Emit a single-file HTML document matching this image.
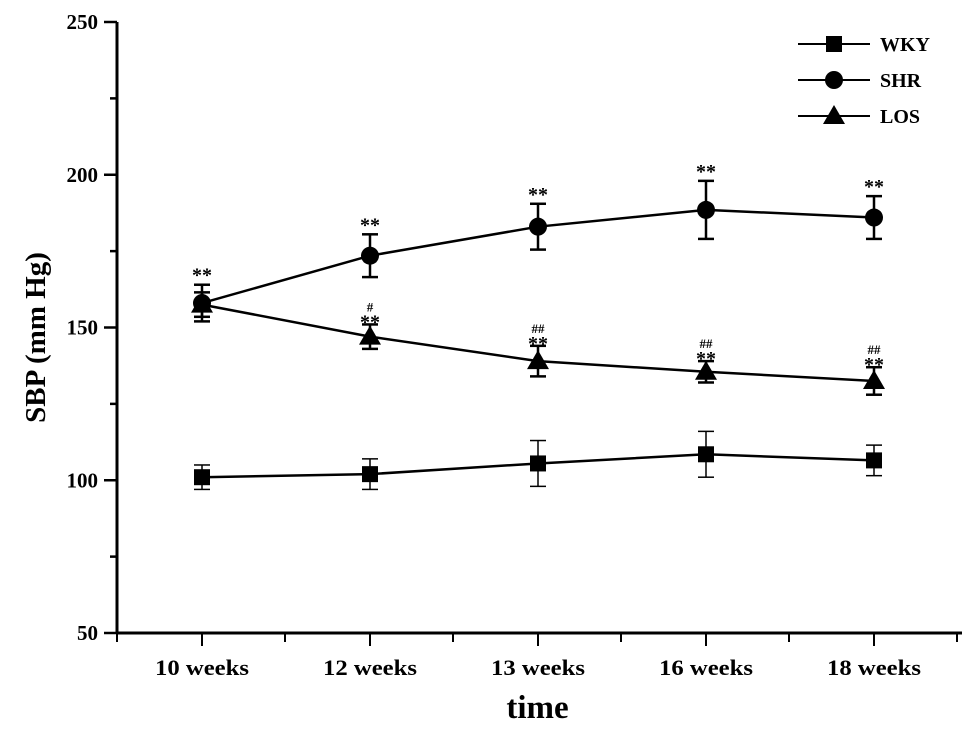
<!DOCTYPE html>
<html><head><meta charset="utf-8"><style>
body{margin:0;background:#fff}
svg text{font-family:"Liberation Serif",serif;font-weight:bold;fill:#000}
</style></head><body>
<svg id="chart" width="969" height="725"></svg>
<script>
const categories=["10 weeks","12 weeks","13 weeks","16 weeks","18 weeks"];
const wky=[101,102,105.5,108.5,106.5];
const wkyErr=[4,5,7.5,7.5,5];
const shr=[158,173.5,183,188.5,186];
const shrErr=[6,7,7.5,9.5,7];
const los=[157.5,147,139,135.5,132.5];
const losErr=[4,4,5,3.5,4.5];
const losHash=["","#","##","##","##"];
const yTicks=[50,100,150,200,250];
const svg=document.getElementById('chart');
const NS="http://www.w3.org/2000/svg";
const X0=117,X1=962,Y0=633,Y1=22;
function yS(v){return Y0-(v-50)/200*(Y0-Y1);}
function xS(i){return X0+85+168*i;}
function el(t,a,p){const e=document.createElementNS(NS,t);for(const k in a)e.setAttribute(k,a[k]);(p||svg).appendChild(e);return e;}
let a=el('line',{x1:X0,y1:Y1,x2:X0,y2:Y0+1,stroke:'#000','stroke-width':3});

a=el('line',{x1:X0-1,y1:Y0,x2:X1,y2:Y0,stroke:'#000','stroke-width':3});

for(let v=50;v<=250;v+=25){const maj=(v%50===0);el('line',{x1:X0-(maj?13:7),y1:yS(v),x2:X0,y2:yS(v),stroke:'#000','stroke-width':2.5});}
yTicks.forEach(v=>{const t=el('text',{x:98,y:yS(v)+7,'text-anchor':'end','font-size':21});t.textContent=v;
});
for(let i=0;i<=5;i++){el('line',{x1:X0+168*i,y1:Y0,x2:X0+168*i,y2:Y0+9,stroke:'#000','stroke-width':2});}
categories.forEach((c,i)=>{el('line',{x1:xS(i),y1:Y0,x2:xS(i),y2:Y0+13,stroke:'#000','stroke-width':2});
const t=el('text',{x:xS(i),y:Y0+42,'text-anchor':'middle','font-size':22,'textLength':94,'lengthAdjust':'spacingAndGlyphs'});t.textContent=c;
});
let t=el('text',{x:0,y:0,'text-anchor':'middle','font-size':29,transform:`translate(45,${(Y0+Y1)/2+10}) rotate(-90)`});t.textContent="SBP (mm Hg)";

t=el('text',{x:(X0+X1)/2-2,y:718,'text-anchor':'middle','font-size':33});t.textContent="time";

function marker(type,x,y,g){
 if(type==='sq')return el('rect',{x:x-8,y:y-8,width:16,height:16,fill:'#000'},g);
 if(type==='ci')return el('circle',{cx:x,cy:y,r:9,fill:'#000'},g);
 return el('polygon',{points:`${x},${y-11} ${x+11},${y+8} ${x-11},${y+8}`,fill:'#000'},g);
}
function series(name,vals,errs,type,sw){
 const g=el('g',{});
 el('polyline',{points:vals.map((v,i)=>xS(i)+','+yS(v)).join(' '),fill:'none',stroke:'#000','stroke-width':2.5},g);
 vals.forEach((v,i)=>{const x=xS(i);
  el('line',{x1:x,y1:yS(v+errs[i]),x2:x,y2:yS(v-errs[i]),stroke:'#000','stroke-width':sw},g);
  el('line',{x1:x-8,y1:yS(v+errs[i]),x2:x+8,y2:yS(v+errs[i]),stroke:'#000','stroke-width':sw},g);
  el('line',{x1:x-8,y1:yS(v-errs[i]),x2:x+8,y2:yS(v-errs[i]),stroke:'#000','stroke-width':sw},g);
  const m=marker(type,x,yS(v),g);});
 return g;
}
series('wky',wky,wkyErr,'sq',1.5);
series('shr',shr,shrErr,'ci',2.5);
series('los',los,losErr,'tr',2.5);
shr.forEach((v,i)=>{const s=el('text',{x:xS(i),y:yS(v+shrErr[i])-3,'text-anchor':'middle','font-size':20});s.textContent="**";
});
los.forEach((v,i)=>{if(i===0)return;const y=yS(v+losErr[i]);
 const s=el('text',{x:xS(i),y:y+4,'text-anchor':'middle','font-size':20});s.textContent="**";
 
 const h=el('text',{x:xS(i),y:y-13,'text-anchor':'middle','font-size':13,'font-weight':'normal'});h.textContent=losHash[i];
 });
[['WKY','sq',44],['SHR','ci',80],['LOS','tr',116]].forEach(([n,ty,y])=>{
 const g=el('g',{});
 el('line',{x1:798,y1:y,x2:870,y2:y,stroke:'#000','stroke-width':2},g);marker(ty,834,y,g);
 const tt=el('text',{x:880,y:y+7,'font-size':20},g);tt.textContent=n;});
</script>
</body></html>
